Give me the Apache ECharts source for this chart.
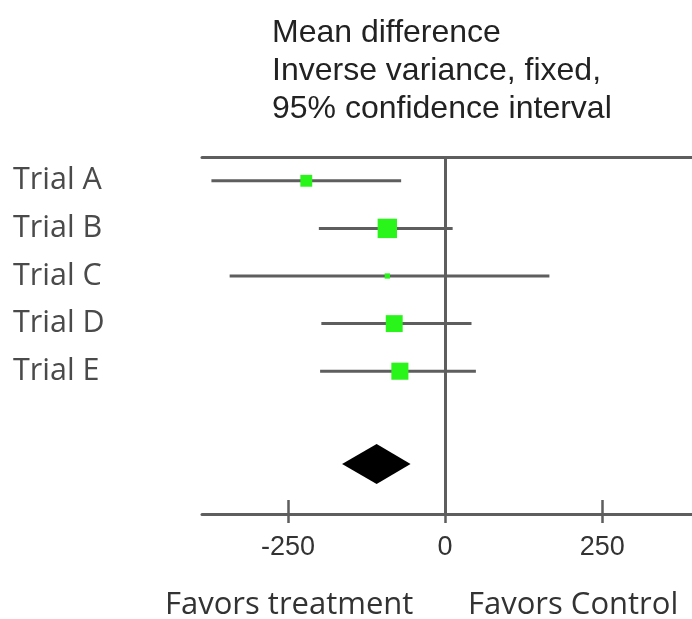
<!DOCTYPE html>
<html>
<head>
<meta charset="utf-8">
<script src="https://cdn.jsdelivr.net/npm/echarts@6/dist/echarts.min.js"></script>
<style>html,body{margin:0;padding:0;background:#fff;}#chart{width:692px;height:619px;}</style>
</head>
<body>
<div id="chart"></div>
<script>
// ---- data ----
const trials = ['Trial A', 'Trial B', 'Trial C', 'Trial D', 'Trial E'];
const meanDiff = [-221, -92, -92, -81, -72];
const ciLow = [-372, -201, -343, -197, -199];
const ciHigh = [-70, 12, 166, 42, 49];
const weights = [12.5, 33.5, 2.5, 25.5, 26];
const pooled = { mean: -109, low: -164, high: -55 };
const tickValues = [-250, 0, 250];
const titleLines = ['Mean difference', 'Inverse variance, fixed,', '95% confidence interval'];
const favorsLabels = ['Favors treatment', 'Favors Control'];

// ---- chart ----
const chart = echarts.init(document.getElementById('chart'), null, { renderer: 'canvas' });
const xMin = -387, xMax = 393;
const lineColor = '#5e5e5e';
const pooledRow = 6.45;

const trialData = trials.map((t, i) => [ciLow[i], ciHigh[i], meanDiff[i], weights[i], i + 0.5]);

const option = {
  animation: false,
  backgroundColor: '#ffffff',
  grid: { left: 202, right: 0, top: 157, height: 357, containLabel: false },
  xAxis: [
    {
      type: 'value', position: 'bottom', min: xMin, max: xMax,
      axisLine: { show: true, onZero: false, lineStyle: { color: lineColor, width: 3 } },
      axisTick: { show: true, inside: false, length: 9, customValues: tickValues, lineStyle: { color: lineColor, width: 2.5 } },
      axisLabel: { show: true, customValues: tickValues, margin: 20, fontSize: 27, fontFamily: 'Liberation Sans', color: '#333' },
      splitLine: { show: false }
    },
    {
      type: 'value', position: 'bottom', min: xMin, max: xMax,
      axisLine: { show: false, onZero: false },
      axisTick: { show: true, inside: true, length: 14, customValues: tickValues, lineStyle: { color: lineColor, width: 2.5 } },
      axisLabel: { show: false },
      splitLine: { show: false }
    },
    {
      type: 'value', position: 'top', min: xMin, max: xMax,
      axisLine: { show: true, onZero: false, lineStyle: { color: lineColor, width: 3 } },
      axisTick: { show: false },
      axisLabel: { show: false },
      splitLine: { show: false }
    }
  ],
  yAxis: {
    type: 'value', min: 0, max: 7.5, interval: 0.5, inverse: true,
    axisLine: { show: false, onZero: false },
    axisTick: { show: false },
    splitLine: { show: false },
    axisLabel: {
      show: true, align: 'left', margin: 189, fontSize: 30.5, fontFamily: 'Open Sans', color: '#4a4a4a',
      formatter: function (v) {
        const idx = v - 0.5;
        if (Number.isInteger(idx) && idx >= 0 && idx < trials.length) return trials[idx];
        return '';
      }
    }
  },
  graphic: [
    {
      type: 'text', left: 272, top: 14,
      style: { text: titleLines.join('\n'), font: '32px "Liberation Sans"', lineHeight: 38, fill: '#222' }
    },
    {
      type: 'text', left: 165, top: 590,
      style: { text: favorsLabels[0], font: '31px "Open Sans"', lineHeight: 31, fill: '#333' }
    },
    {
      type: 'text', left: 468, top: 590,
      style: { text: favorsLabels[1], font: '31px "Open Sans"', lineHeight: 31, fill: '#333' }
    }
  ],
  series: [
    {
      type: 'custom',
      xAxisIndex: 0,
      data: trialData,
      encode: { x: [0, 1, 2], y: 4 },
      renderItem: function (params, api) {
        const y = api.value(4);
        const p1 = api.coord([api.value(0), y]);
        const p2 = api.coord([api.value(1), y]);
        const pm = api.coord([api.value(2), y]);
        const s = Math.sqrt(api.value(3)) * 3.35;
        return {
          type: 'group',
          children: [
            { type: 'line', shape: { x1: p1[0], y1: p1[1], x2: p2[0], y2: p2[1] }, style: { stroke: lineColor, lineWidth: 3 } },
            { type: 'rect', shape: { x: pm[0] - s / 2, y: pm[1] - s / 2, width: s, height: s }, style: { fill: '#2af51a' } }
          ]
        };
      },
      markLine: {
        silent: true, symbol: 'none', label: { show: false },
        lineStyle: { color: lineColor, width: 3, type: 'solid' },
        data: [{ xAxis: 0 }]
      },
      z: 3
    },
    {
      type: 'custom',
      xAxisIndex: 0,
      data: [[pooled.low, pooled.high, pooled.mean, pooledRow]],
      encode: { x: [0, 1, 2], y: 3 },
      renderItem: function (params, api) {
        const y = api.value(3);
        const pl = api.coord([api.value(0), y]);
        const ph = api.coord([api.value(1), y]);
        const pm = api.coord([api.value(2), y]);
        const h = 20;
        return {
          type: 'polygon',
          shape: { points: [[pl[0], pl[1]], [pm[0], pm[1] - h], [ph[0], ph[1]], [pm[0], pm[1] + h]] },
          style: { fill: '#000' }
        };
      },
      z: 4
    }
  ]
};
chart.setOption(option);
</script>
</body>
</html>
